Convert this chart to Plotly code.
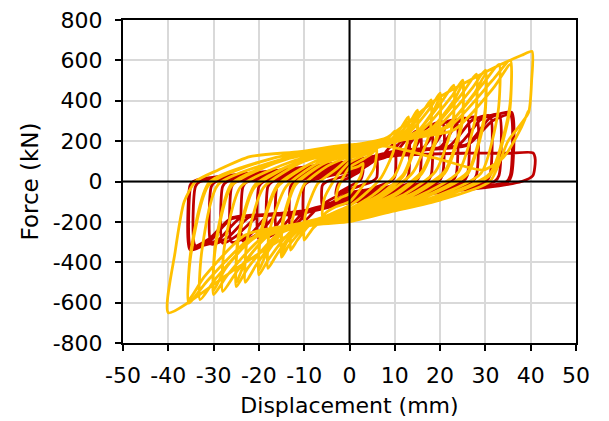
import plotly.graph_objects as go

# ---------------- data (displacement mm, force kN) ----------------
# Red specimen: successive cycles, each starting at zero displacement on the reloading branch
red_x_c1 = [0, 2, 3, 2.5, 0, -2, -3, -2.5, 0]
red_f_c1 = [20, 45, 60, 10, -25, -50, -65, -10, 20]
red_x_c2 = [3, 5, 6, 6, 5, 0, -3, -5, -6, -6, -5, 0]
red_f_c2 = [65, 95, 115, 20, 0, -40, -75, -100, -120, -20, 0, 35]
red_x_c3 = [4, 7, 8.5, 10, 10, 9, 4, 0, -4, -7, -8.5, -10, -10, -9, -4, 0]
red_f_c3 = [90, 120, 160, 190, 25, 0, -40, -55, -105, -130, -165, -195, -20, 0, 30, 50]
red_x_c4 = [5, 9, 11, 13, 13, 12, 5, 0, -5, -9, -11, -13, -13, -12, -5, 0]
red_f_c4 = [100, 130, 190, 225, 30, 0, -45, -65, -115, -140, -195, -230, -25, 0, 35, 60]
red_x_c5 = [6, 10, 13, 15.5, 15.5, 14.5, 6, 0, -6, -10, -13, -16, -16, -15, -6, 0]
red_f_c5 = [110, 140, 220, 255, 30, 0, -50, -75, -125, -150, -220, -255, -25, 0, 40, 70]
red_x_c6 = [6, 12, 15, 18, 18, 17, 7, 0, -6, -12, -15, -18, -18, -17, -7, 0]
red_f_c6 = [120, 150, 240, 280, 30, 0, -50, -80, -130, -155, -230, -275, -25, 0, 40, 75]
red_x_c7 = [7, 14, 17, 20.5, 20.5, 19.5, 8, 0, -7, -14, -17, -20, -20, -19, -8, 0]
red_f_c7 = [130, 155, 265, 295, 30, 0, -55, -85, -135, -160, -245, -285, -25, 0, 45, 80]
red_x_c8 = [8, 16, 20, 23.5, 23.5, 22.5, 9, 0, -8, -16, -20, -23.5, -23.5, -22.5, -9, 0]
red_f_c8 = [135, 160, 280, 305, 30, 0, -55, -90, -140, -165, -255, -295, -25, 0, 45, 85]
red_x_c9 = [9, 18, 22, 26, 26, 25, 10, 0, -9, -18, -22, -26, -26, -25, -10, 0]
red_f_c9 = [140, 165, 290, 312, 30, 0, -60, -95, -145, -170, -265, -300, -25, 0, 50, 90]
red_x_c10 = [9, 20, 24, 28, 28, 27, 11, 0, -9, -20, -25, -28, -28, -27, -11, 0]
red_f_c10 = [145, 170, 295, 318, 30, 0, -60, -95, -150, -170, -270, -305, -25, 0, 50, 90]
red_x_c11 = [10, 22, 27, 31, 31, 30, 12, 0, -10, -22, -27, -30.5, -30.5, -29.5, -12, 0]
red_f_c11 = [150, 175, 302, 326, 30, 0, -65, -100, -150, -175, -280, -310, -25, 0, 55, 95]
red_x_c12 = [10, 24, 29, 33, 33, 32, 13, 0, -10, -24, -29, -34, -34, -33, -13, 0]
red_f_c12 = [150, 180, 307, 332, 30, 0, -65, -100, -155, -180, -290, -320, -25, 0, 55, 95]
red_x_c13 = [11, 26, 31, 35.8, 35.8, 35, 14, 0, -11, -26, -31, -35.2, -35.2, -34.5, -14, 0]
red_f_c13 = [155, 185, 315, 342, 35, 0, -70, -105, -160, -185, -300, -338, -20, 0, 60, 100]
red_x_c14 = [11, 26, 31.5, 35.5, 35.5, 34.5, 14, 0, -11, -26, -31, -35, -35, -34, -14, 0]
red_f_c14 = [150, 180, 300, 330, 30, -5, -70, -105, -155, -180, -285, -325, -20, 5, 60, 100]
red_x_c15 = [11, 25, 35, 40.5, 41, 40.5, 38, 30, 15, 0]
red_f_c15 = [130, 140, 140, 142, 110, 30, 0, -30, -60, -80]

# Yellow specimen
yel_x_c1 = [0, 2, 3, 2.5, 0, -2, -3, -2.5, 0]
yel_f_c1 = [60, 75, 90, 30, -60, -80, -95, -30, 70]
yel_x_c2 = [3, 5, 6, 5.5, 3, 0, -3, -5, -6, -5.5, -3, 0]
yel_f_c2 = [110, 140, 165, 70, -20, -100, -125, -150, -170, -80, 20, 95]
yel_x_c3 = [4, 8, 10, 9.7, 7, 3, 0, -4, -8, -10, -9.7, -7, -3, 0]
yel_f_c3 = [140, 200, 250, 150, 20, -70, -120, -160, -230, -290, -160, -10, 60, 115]
yel_x_c4 = [5, 9, 11.5, 13, 12.7, 10, 5, 0, -5, -9, -11.5, -13, -12.7, -10, -5, 0]
yel_f_c4 = [155, 205, 270, 320, 190, 30, -70, -135, -170, -220, -290, -340, -200, -15, 75, 125]
yel_x_c5 = [5, 10, 13.5, 15, 14.8, 12, 7, 0, -5, -10, -13.5, -15, -14.8, -12, -6, 0]
yel_f_c5 = [165, 215, 300, 354, 220, 40, -60, -145, -175, -230, -320, -375, -220, -20, 85, 135]
yel_x_c6 = [5, 10, 13.8, 15, 14.8, 12, 7, 0, -5, -10, -13.8, -15, -14.8, -12, -6, 0]
yel_f_c6 = [160, 200, 285, 335, 200, 30, -70, -150, -170, -215, -300, -355, -200, -10, 85, 135]
yel_x_c7 = [6, 12, 16, 18, 17.8, 14, 8, 0, -6, -12, -16, -18, -17.7, -14, -7, 0]
yel_f_c7 = [175, 230, 340, 405, 250, 45, -65, -150, -180, -240, -360, -430, -250, -25, 90, 145]
yel_x_c8 = [6, 13, 18, 20, 19.8, 16, 10, 0, -6, -13, -18, -20, -19.6, -16, -8, 0]
yel_f_c8 = [180, 240, 370, 438, 270, 50, -60, -155, -185, -250, -390, -463, -270, -30, 95, 150]
yel_x_c9 = [6, 14, 18.5, 20, 19.8, 16, 10, 0, -6, -14, -18.5, -20, -19.6, -16, -8, 0]
yel_f_c9 = [175, 225, 350, 415, 250, 40, -70, -160, -180, -235, -365, -440, -250, -20, 95, 150]
yel_x_c10 = [7, 15, 20.5, 23, 22.8, 19, 12, 0, -7, -15, -20.5, -23, -22.6, -19, -10, 0]
yel_f_c10 = [185, 250, 400, 478, 290, 50, -65, -160, -190, -255, -410, -500, -290, -30, 100, 155]
yel_x_c11 = [7, 16, 22.5, 25, 24.8, 21, 13, 0, -7, -16, -22.5, -25, -24.6, -21, -11, 0]
yel_f_c11 = [190, 255, 420, 502, 300, 50, -70, -165, -195, -265, -430, -521, -300, -30, 100, 160]
yel_x_c12 = [7, 17, 23, 25, 24.8, 21, 13, 0, -7, -17, -23, -25, -24.6, -21, -11, 0]
yel_f_c12 = [185, 240, 400, 480, 280, 40, -80, -170, -190, -245, -400, -500, -280, -20, 100, 160]
yel_x_c13 = [8, 18, 25, 28, 27.8, 24, 15, 0, -8, -18, -25, -28, -27.6, -24, -12, 0]
yel_f_c13 = [195, 260, 440, 532, 320, 45, -75, -175, -200, -270, -450, -545, -320, -25, 105, 165]
yel_x_c14 = [8, 19, 27, 30, 29.8, 26, 16, 0, -8, -19, -27, -30, -29.6, -26, -14, 0]
yel_f_c14 = [200, 262, 460, 552, 330, 45, -80, -180, -205, -275, -465, -561, -330, -20, 110, 170]
yel_x_c15 = [8, 20, 27.5, 30, 29.8, 26, 16, 0, -8, -20, -27.5, -30, -29.6, -26, -14, 0]
yel_f_c15 = [195, 245, 435, 530, 310, 35, -85, -185, -200, -255, -435, -540, -310, -10, 110, 170]
yel_x_c16 = [9, 21, 29.5, 33, 32.8, 29, 18, 0, -9, -21, -29.5, -33, -32.6, -29, -15, 0]
yel_f_c16 = [205, 268, 485, 580, 345, 40, -82, -185, -208, -280, -480, -585, -345, -15, 110, 175]
yel_x_c17 = [9, 22, 31.5, 35.5, 35.3, 31, 19, 0, -9, -22, -31.5, -35.5, -35, -31, -17, 0]
yel_f_c17 = [208, 272, 500, 601, 360, 40, -85, -190, -210, -285, -495, -602, -360, -15, 115, 178]
yel_x_c18 = [9, 23, 32, 35.5, 35.3, 31, 19, 0, -9, -23, -32, -35.5, -35, -31, -17, 0]
yel_f_c18 = [205, 255, 470, 580, 340, 30, -90, -195, -205, -265, -470, -585, -340, -5, 115, 178]
yel_x_c19 = [8, 20, 32, 38, 40.3, 40.2, 39.5, 35, 31, 20, 9, 0, -10, -25, -40, -38.5, -36.5,
             -34, -29, -22, -11, 0, 9, 20, 29.5, 34, 38, 39.5]
yel_f_c19 = [215, 420, 565, 625, 645, 500, 340, 200, 0, -92, -150, -199, -225, -430, -650, -350,
             -100, 0, 57, 123, 148, 182, 172, 110, 57, 120, 271, 350]

x_ticks = [-50, -40, -30, -20, -10, 0, 10, 20, 30, 40, 50]
x_tick_text = ["-50", "-40", "-30", "-20", "-10", "0", "10", "20", "30", "40", "50"]
y_ticks = [-800, -600, -400, -200, 0, 200, 400, 600, 800]
y_tick_text = ["-800", "-600", "-400", "-200", "0", "200", "400", "600", "800"]

red_cycles = [(red_x_c1, red_f_c1), (red_x_c2, red_f_c2), (red_x_c3, red_f_c3), (red_x_c4, red_f_c4),
              (red_x_c5, red_f_c5), (red_x_c6, red_f_c6), (red_x_c7, red_f_c7), (red_x_c8, red_f_c8),
              (red_x_c9, red_f_c9), (red_x_c10, red_f_c10), (red_x_c11, red_f_c11),
              (red_x_c12, red_f_c12), (red_x_c13, red_f_c13), (red_x_c14, red_f_c14),
              (red_x_c15, red_f_c15)]
yel_cycles = [(yel_x_c1, yel_f_c1), (yel_x_c2, yel_f_c2), (yel_x_c3, yel_f_c3), (yel_x_c4, yel_f_c4),
              (yel_x_c5, yel_f_c5), (yel_x_c6, yel_f_c6), (yel_x_c7, yel_f_c7), (yel_x_c8, yel_f_c8),
              (yel_x_c9, yel_f_c9), (yel_x_c10, yel_f_c10), (yel_x_c11, yel_f_c11),
              (yel_x_c12, yel_f_c12), (yel_x_c13, yel_f_c13), (yel_x_c14, yel_f_c14),
              (yel_x_c15, yel_f_c15), (yel_x_c16, yel_f_c16), (yel_x_c17, yel_f_c17),
              (yel_x_c18, yel_f_c18), (yel_x_c19, yel_f_c19)]

red_x, red_f = [], []
for cx, cf in red_cycles:
    red_x += cx
    red_f += cf
yel_x, yel_f = [], []
for cx, cf in yel_cycles:
    yel_x += cx
    yel_f += cf

FONT = "DejaVu Sans, Verdana, sans-serif"

fig = go.Figure()
fig.add_trace(go.Scatter(x=red_x, y=red_f, mode="lines",
                         line=dict(color="#C00000", width=2.8, shape="spline", smoothing=0.6),
                         showlegend=False, hoverinfo="skip"))
fig.add_trace(go.Scatter(x=yel_x, y=yel_f, mode="lines",
                         line=dict(color="#FFC000", width=2.8, shape="spline", smoothing=0.6),
                         showlegend=False, hoverinfo="skip"))

# axes crossing at zero, drawn above the curves
fig.add_shape(type="line", xref="x", yref="paper", x0=0, x1=0, y0=0, y1=1,
              line=dict(color="black", width=2), layer="above")
fig.add_shape(type="line", xref="paper", yref="y", x0=0, x1=1, y0=0, y1=0,
              line=dict(color="black", width=2), layer="above")

axis_common = dict(showgrid=True, gridcolor="#D9D9D9", gridwidth=2, automargin=False,
                   zeroline=False, showline=True, linecolor="black", linewidth=2,
                   mirror=True, ticks="outside", ticklen=6, tickwidth=2, tickcolor="black",
                   tickfont=dict(family=FONT, size=22, color="black"))

fig.update_xaxes(range=[-50, 50], tickvals=x_ticks, ticktext=x_tick_text, ticklabelstandoff=6,
                 title=dict(text="Displacement (mm)", font=dict(family=FONT, size=22, color="black"),
                            standoff=10),
                 **axis_common)
fig.update_yaxes(range=[-800, 800], tickvals=y_ticks, ticktext=y_tick_text, ticklabelstandoff=8,
                 title=dict(text="Force (kN)", font=dict(family=FONT, size=23, color="black"),
                            standoff=8),
                 **axis_common)

fig.update_layout(width=609, height=421,
                  margin=dict(l=123, r=33, t=20, b=78),
                  paper_bgcolor="white", plot_bgcolor="white",
                  font=dict(family=FONT, color="black"))

fig.write_html("out.html")
